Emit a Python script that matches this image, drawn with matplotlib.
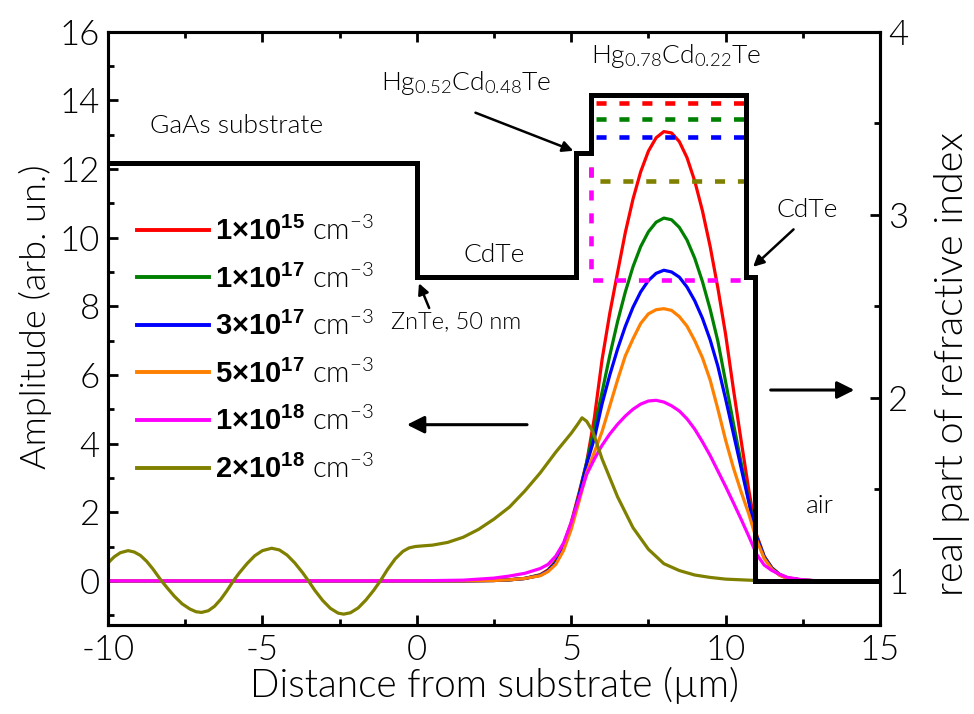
import matplotlib
matplotlib.use("Agg")
import matplotlib.pyplot as plt
from matplotlib.ticker import MultipleLocator

plt.rcParams['font.family'] = ['Lato', 'DejaVu Sans']
plt.rcParams['font.weight'] = 300
plt.rcParams['axes.labelweight'] = 300
plt.rcParams['axes.unicode_minus'] = False
plt.rcParams['mathtext.fontset'] = 'custom'
plt.rcParams['mathtext.rm'] = 'Lato:weight=300'
plt.rcParams['mathtext.it'] = 'Lato:weight=300'
plt.rcParams['mathtext.bf'] = 'Liberation Sans:bold'

# ---- mode amplitude profiles (arb. un.) vs distance from substrate (um) ----
x_mode = [-10, 0, 1.5, 2.5, 3.0, 3.5, 4.0, 4.25, 4.5, 4.75, 5.0, 5.25, 5.5, 5.75,
          6.0, 6.25, 6.5, 6.75, 7.0, 7.25, 7.5, 7.75, 8.0, 8.25, 8.5, 8.75, 9.0,
          9.25, 9.5, 9.75, 10.0, 10.25, 10.5, 10.75, 11.0, 11.25, 11.5, 11.75,
          12.0, 12.5, 13.0, 15]

amp_1e15 = [0, 0, 0, 0.01, 0.03, 0.07, 0.18, 0.32, 0.58, 1.05, 1.7, 2.55, 3.45, 4.75,
            6.45, 7.8, 8.98, 10.14, 11.12, 11.92, 12.52, 12.91, 13.09, 13.05, 12.8,
            12.33, 11.65, 10.78, 9.74, 8.53, 7.18, 5.6, 4.1, 2.65, 1.35, 0.72, 0.38,
            0.19, 0.09, 0.02, 0, 0]
amp_1e17 = [0, 0, 0, 0.01, 0.03, 0.07, 0.17, 0.3, 0.55, 1.0, 1.65, 2.5, 3.45, 4.45,
            5.5, 6.57, 7.55, 8.41, 9.15, 9.74, 10.17, 10.45, 10.57, 10.52, 10.3,
            9.93, 9.4, 8.72, 7.91, 6.98, 5.8, 4.6, 3.45, 2.35, 1.3, 0.7, 0.37,
            0.18, 0.08, 0.02, 0, 0]
amp_3e17 = [0, 0, 0, 0.01, 0.03, 0.07, 0.16, 0.29, 0.52, 0.95, 1.6, 2.45, 3.4, 4.15,
            5.16, 6.0, 6.75, 7.41, 7.97, 8.42, 8.75, 8.96, 9.05, 9.0, 8.85,
            8.56, 8.16, 7.65, 7.02, 6.25, 5.3, 4.3, 3.3, 2.3, 1.28, 0.68, 0.36,
            0.17, 0.08, 0.02, 0, 0]
amp_5e17 = [0, 0, 0, 0.01, 0.03, 0.07, 0.15, 0.27, 0.48, 0.88, 1.5, 2.3, 3.15, 3.75,
            4.35, 5.1, 5.85, 6.55, 7.05, 7.5, 7.78, 7.9, 7.93, 7.88, 7.7,
            7.42, 7.0, 6.5, 5.85, 5.0, 4.1, 3.3, 2.6, 1.95, 1.2, 0.65, 0.34,
            0.16, 0.07, 0.02, 0, 0]
amp_1e18 = [0, 0, 0.02, 0.08, 0.14, 0.22, 0.36, 0.48, 0.72, 1.1, 1.7, 2.4, 3.1, 3.55,
            3.95, 4.28, 4.56, 4.8, 5.0, 5.15, 5.24, 5.26, 5.21, 5.1, 4.95,
            4.72, 4.42, 4.05, 3.65, 3.2, 2.75, 2.28, 1.8, 1.3, 0.78, 0.46, 0.3,
            0.19, 0.1, 0.03, 0, 0]

x_2e18 = [-10, -9.8, -9.6, -9.35, -9.15, -8.95, -8.75, -8.55, -8.27, -8.05, -7.85,
          -7.6, -7.35, -7.15, -6.97, -6.75, -6.55, -6.35, -6.15, -5.94, -5.75,
          -5.5, -5.25, -5.0, -4.7, -4.45, -4.2, -3.95, -3.7, -3.51, -3.3, -3.05,
          -2.8, -2.55, -2.37, -2.15, -1.9, -1.65, -1.4, -1.18, -0.95, -0.7,
          -0.45, -0.25, -0.05, 0.2, 0.5, 1.0, 1.5, 2.0, 2.5, 3.0, 3.5, 4.0, 4.5,
          5.0, 5.2, 5.35, 5.5, 5.7, 6.0, 6.5, 7.0, 7.5, 8.0, 8.5, 9.0, 9.5,
          10.0, 11.0, 12.0, 15]
amp_2e18 = [0.52, 0.7, 0.82, 0.88, 0.84, 0.74, 0.57, 0.35, 0.0, -0.24, -0.45,
            -0.67, -0.82, -0.9, -0.92, -0.87, -0.74, -0.54, -0.29, 0.0, 0.23,
            0.5, 0.73, 0.88, 0.95, 0.9, 0.75, 0.52, 0.24, 0.0, -0.28, -0.57,
            -0.8, -0.94, -0.97, -0.93, -0.79, -0.56, -0.28, 0.0, 0.33, 0.64,
            0.86, 0.96, 1.0, 1.02, 1.04, 1.12, 1.27, 1.5, 1.8, 2.15, 2.62, 3.15, 3.75,
            4.3, 4.55, 4.75, 4.65, 4.35, 3.55, 2.45, 1.55, 0.92, 0.5, 0.3, 0.17, 0.1,
            0.05, 0.01, 0, 0]

series_labels = [r'$\mathbf{1×10^{15}}$ cm$^{-3}$',
                 r'$\mathbf{1×10^{17}}$ cm$^{-3}$',
                 r'$\mathbf{3×10^{17}}$ cm$^{-3}$',
                 r'$\mathbf{5×10^{17}}$ cm$^{-3}$',
                 r'$\mathbf{1×10^{18}}$ cm$^{-3}$',
                 r'$\mathbf{2×10^{18}}$ cm$^{-3}$']
series_colors = ['#ff0000', '#008000', '#0000ff', '#ff8000', '#ff00ff', '#808000']

# ---- real part of refractive index of the layer stack ----
layer_edges = [-10, 0, 5.15, 5.65, 10.66, 10.95, 15]
layer_index = [3.285, 2.659, 3.336, 3.655, 2.659, 1.0]

# ---- effective indices of the modes (dashed) ----
neff_x = [5.8, 10.6]
neff_values = [3.613, 3.522, 3.427, 3.187, 2.644]   # red, green, blue, olive, magenta
neff_colors = ['#ff0000', '#008000', '#0000ff', '#808000', '#ff00ff']
neff_drop_x = 5.65
neff_drop_top = 3.263

AMP_LO, AMP_HI = -1.3, 16.0
IDX_LO, IDX_HI = 1 + AMP_LO * 3 / 16, 4.0

fig = plt.figure(figsize=(9.74, 7.14), dpi=100)
ax = fig.add_axes([0.1109, 0.124, 0.7926, 0.8316])
ax2 = ax.twinx()

amps = [amp_1e15, amp_1e17, amp_3e17, amp_5e17, amp_1e18]
for a, c, lab in zip(amps, series_colors[:5], series_labels[:5]):
    ax.plot(x_mode, a, color=c, lw=2.3, label=lab)
ax.plot(x_2e18, amp_2e18, color=series_colors[5], lw=2.3, label=series_labels[5])

# index profile as steps
step_x, step_y = [], []
for i, n in enumerate(layer_index):
    step_x += [layer_edges[i], layer_edges[i + 1]]
    step_y += [n, n]
# dashed effective-index levels
dash = (2.2, 2.8)
for v, c in zip(neff_values, neff_colors):
    if c in ('#ff00ff', '#808000'):
        ax2.plot([neff_drop_x, neff_drop_x, neff_x[1]], [neff_drop_top, v, v],
                 color=c, lw=3.3, dashes=dash)
    else:
        ax2.plot(neff_x, [v, v], color=c, lw=3.3, dashes=dash)
ax2.plot(step_x, step_y, color='black', lw=3.6, solid_joinstyle='miter')

ax.set_xlim(-10, 15)
ax.set_ylim(AMP_LO, AMP_HI)
ax2.set_ylim(IDX_LO, IDX_HI)

ax.xaxis.set_major_locator(MultipleLocator(5))
ax.xaxis.set_minor_locator(MultipleLocator(2.5))
ax.yaxis.set_major_locator(MultipleLocator(2))
ax.yaxis.set_minor_locator(MultipleLocator(1))
ax2.yaxis.set_major_locator(MultipleLocator(1))
ax2.yaxis.set_minor_locator(MultipleLocator(0.5))

for a in (ax, ax2):
    for s in a.spines.values():
        s.set_linewidth(2.2)
ax.tick_params(which='both', direction='in', top=True, right=False, width=2,
               labelsize=25, pad=6, labelcolor='black')
ax.tick_params(which='major', length=7)
ax.tick_params(which='minor', length=4)
ax2.tick_params(which='both', direction='in', width=2, labelsize=25, pad=6)
ax2.tick_params(which='major', length=7)
ax2.tick_params(which='minor', length=4)

ax.set_xlabel('Distance from substrate (µm)', fontsize=28, labelpad=1)
ax.set_ylabel('Amplitude (arb. un.)', fontsize=26)
ax.yaxis.set_label_coords(-0.072, 0.52)
ax2.set_ylabel('real part of refractive index', fontsize=28.5)
ax2.yaxis.set_label_coords(1.07, 0.44)

leg = ax.legend(loc='upper left', bbox_to_anchor=(0.038, 0.69), frameon=False,
                fontsize=21, handlelength=2.45, handletextpad=0.2,
                labelspacing=0.63, borderpad=0, borderaxespad=0)
for ln in leg.get_lines():
    ln.set_linewidth(2.8)

fs = 19
ax.text(-8.64, 13.05, 'GaAs substrate', fontsize=fs, ha='left', va='baseline')
ax.text(2.49, 9.3, 'CdTe', fontsize=fs, ha='center', va='baseline')
ax.text(1.59, 14.29, 'Hg$_{0.52}$Cd$_{0.48}$Te', fontsize=fs, ha='center', va='baseline')
ax.text(8.4, 15.1, 'Hg$_{0.78}$Cd$_{0.22}$Te', fontsize=fs, ha='center', va='baseline')
ax.text(12.63, 10.61, 'CdTe', fontsize=fs, ha='center', va='baseline')
ax.text(13.06, 1.97, 'air', fontsize=fs, ha='center', va='baseline')
ax.text(1.27, 7.37, 'ZnTe, 50 nm', fontsize=17, ha='center', va='baseline')

arrow = dict(arrowstyle='-|>', color='black', lw=1.8, mutation_scale=16,
             shrinkA=0, shrinkB=0)
ax.annotate('', xy=(0.07, 8.67), xytext=(0.4, 7.95), arrowprops=arrow)
ax.annotate('', xy=(5.07, 12.53), xytext=(1.9, 13.64), arrowprops=arrow)
ax.annotate('', xy=(10.89, 9.15), xytext=(12.2, 10.24), arrowprops=arrow)
big = dict(arrowstyle='-|>', color='black', lw=2.2, mutation_scale=26,
           shrinkA=0, shrinkB=0)
ax.annotate('', xy=(-0.32, 4.55), xytext=(3.57, 4.55), arrowprops=big)
ax.annotate('', xy=(14.17, 5.56), xytext=(11.46, 5.56), arrowprops=big)

fig.savefig('out.png', dpi=100)
